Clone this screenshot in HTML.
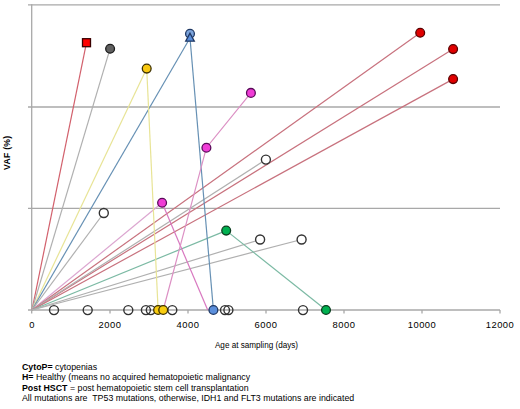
<!DOCTYPE html>
<html>
<head>
<meta charset="utf-8">
<style>
html,body{margin:0;padding:0;background:#fff;}
body{width:520px;height:409px;overflow:hidden;position:relative;font-family:"Liberation Sans",sans-serif;}
svg{position:absolute;left:0;top:0;}
.notes{position:absolute;left:22px;top:361.8px;font-size:8.8px;line-height:10.55px;color:#000;white-space:nowrap;}
</style>
</head>
<body>
<svg width="520" height="409" viewBox="0 0 520 409">
  <!-- gridlines -->
  <g stroke="#a8a8a8" stroke-width="1.3" fill="none">
    <line x1="28" y1="4.8" x2="500" y2="4.8"/>
    <line x1="28" y1="107" x2="500" y2="107"/>
    <line x1="28" y1="208.4" x2="500" y2="208.4"/>
    <line x1="31.7" y1="4.2" x2="31.7" y2="313.5"/>
    <line x1="28" y1="310" x2="500" y2="310"/>
    <!-- x ticks -->
    <line x1="110" y1="310" x2="110" y2="313.5"/>
    <line x1="188" y1="310" x2="188" y2="313.5"/>
    <line x1="266" y1="310" x2="266" y2="313.5"/>
    <line x1="344" y1="310" x2="344" y2="313.5"/>
    <line x1="422" y1="310" x2="422" y2="313.5"/>
    <line x1="500" y1="310" x2="500" y2="313.5"/>
  </g>
  <!-- series lines -->
  <g fill="none" stroke-width="1.2">
    <!-- from origin -->
    <line x1="32" y1="310" x2="86.5" y2="42.7" stroke="#d2606c"/>
    <line x1="32" y1="310" x2="110" y2="48.8" stroke="#b0b0b0"/>
    <line x1="32" y1="310" x2="146.7" y2="68.6" stroke="#e8e496"/>
    <line x1="32" y1="310" x2="190" y2="38" stroke="#6690b4"/>
    <line x1="32" y1="310" x2="103.8" y2="213" stroke="#b0b0b0"/>
    <line x1="32" y1="310" x2="162.1" y2="202.8" stroke="#dca6d0"/>
    <line x1="32" y1="310" x2="420.2" y2="32.8" stroke="#c8727e"/>
    <line x1="32" y1="310" x2="453.1" y2="49.1" stroke="#c8727e"/>
    <line x1="32" y1="310" x2="265.9" y2="159.6" stroke="#b0b0b0"/>
    <line x1="32" y1="310" x2="453.1" y2="79.1" stroke="#c8727e"/>
    <line x1="32" y1="310" x2="226.2" y2="230.6" stroke="#7cbaa4"/>
    <line x1="32" y1="310" x2="260.1" y2="239.5" stroke="#b0b0b0"/>
    <line x1="32" y1="310" x2="301.6" y2="239.5" stroke="#b0b0b0"/>
    <!-- other segments -->
    <line x1="146.7" y1="68.6" x2="158.1" y2="310" stroke="#e8e496"/>
    <line x1="190" y1="38" x2="213.4" y2="310" stroke="#6690b4"/>
    <line x1="162.1" y1="202.8" x2="207.7" y2="310" stroke="#d878c0"/>
    <polyline points="163.2,310 206.4,147.7 250.9,92.9" stroke="#dc90c4"/>
    <line x1="226.2" y1="230.6" x2="326" y2="310" stroke="#7cbaa4"/>
  </g>
  <!-- markers -->
  <g stroke-width="1.3">
    <!-- open circles on axis -->
    <g fill="none" stroke="#333" stroke-width="1.4">
      <circle cx="54" cy="310.1" r="4.5"/>
      <circle cx="87.7" cy="310.1" r="4.5"/>
      <circle cx="128.3" cy="310.1" r="4.5"/>
      <circle cx="145.9" cy="310.1" r="4.5"/>
      <circle cx="150.8" cy="310.1" r="4.5"/>
      <circle cx="172.3" cy="310.1" r="4.5"/>
      <circle cx="225" cy="310.1" r="4.5"/>
      <circle cx="228.4" cy="310.1" r="4.5"/>
      <circle cx="303" cy="310.1" r="4.5"/>
    </g>
    <g fill="#fff" stroke="#333" stroke-width="1.4">
      <circle cx="103.8" cy="213" r="4.5"/>
      <circle cx="265.9" cy="159.6" r="4.5"/>
      <circle cx="260.1" cy="239.5" r="4.5"/>
      <circle cx="301.6" cy="239.5" r="4.5"/>
    </g>
    <circle cx="158.1" cy="310" r="4.4" fill="#f8cc10" stroke="#3d3000"/>
    <circle cx="163.2" cy="310" r="4.4" fill="#f8cc10" stroke="#3d3000"/>
    <circle cx="213.4" cy="310" r="4.4" fill="#5b8fdc" stroke="#1f3864"/>
    <circle cx="326" cy="310" r="4.4" fill="#00b050" stroke="#0a3d1e"/>
    <circle cx="226.2" cy="230.6" r="4.4" fill="#00b050" stroke="#0a3d1e"/>
    <circle cx="162.1" cy="202.8" r="4.4" fill="#f03cd6" stroke="#5a0a5a"/>
    <circle cx="206.4" cy="147.7" r="4.4" fill="#f03cd6" stroke="#5a0a5a"/>
    <circle cx="250.9" cy="92.9" r="4.4" fill="#f03cd6" stroke="#5a0a5a"/>
    <circle cx="420.2" cy="32.8" r="4.4" fill="#e00000" stroke="#5a0000"/>
    <circle cx="453.1" cy="49.1" r="4.4" fill="#e00000" stroke="#5a0000"/>
    <circle cx="453.1" cy="79.1" r="4.4" fill="#e00000" stroke="#5a0000"/>
    <circle cx="146.7" cy="68.6" r="4.4" fill="#f8c810" stroke="#3d3000"/>
    <circle cx="110.1" cy="48.8" r="4.4" fill="#606060" stroke="#1c1c1c"/>
    <rect x="82.5" y="38.7" width="8" height="8" fill="#ff0000" stroke="#3a0000"/>
    <circle cx="190" cy="33.8" r="4.4" fill="#7ca4dc" stroke="#1f3864"/>
    <polygon points="190,33.2 194.3,41.2 185.7,41.2" fill="#5b8fdc" stroke="#1f3864"/>
  </g>
  <!-- axis labels -->
  <g font-family="Liberation Sans, sans-serif" font-size="9.4" letter-spacing="0.5" fill="#000" text-anchor="middle">
    <text x="32" y="327.8">0</text>
    <text x="110" y="327.8">2000</text>
    <text x="188" y="327.8">4000</text>
    <text x="266" y="327.8">6000</text>
    <text x="344" y="327.8">8000</text>
    <text x="422" y="327.8">10000</text>
    <text x="500" y="327.8">12000</text>
  </g>
  <text x="256.5" y="347.6" font-family="Liberation Sans, sans-serif" font-size="8.13" text-anchor="middle" fill="#000">Age at sampling (days)</text>
  <text transform="translate(9.5,152.8) rotate(-90)" font-family="Liberation Sans, sans-serif" font-size="8.6" letter-spacing="0.3" font-weight="bold" text-anchor="middle" fill="#000">VAF (%)</text>
</svg>
<div class="notes">
<div><b>CytoP=</b> cytopenias</div>
<div><b>H=</b> Healthy (means no acquired hematopoietic malignancy</div>
<div><b>Post HSCT</b> = post hematopoietic stem cell transplantation</div>
<div>All mutations are&nbsp; TP53 mutations, otherwise, IDH1 and FLT3 mutations are indicated</div>
</div>
</body>
</html>
